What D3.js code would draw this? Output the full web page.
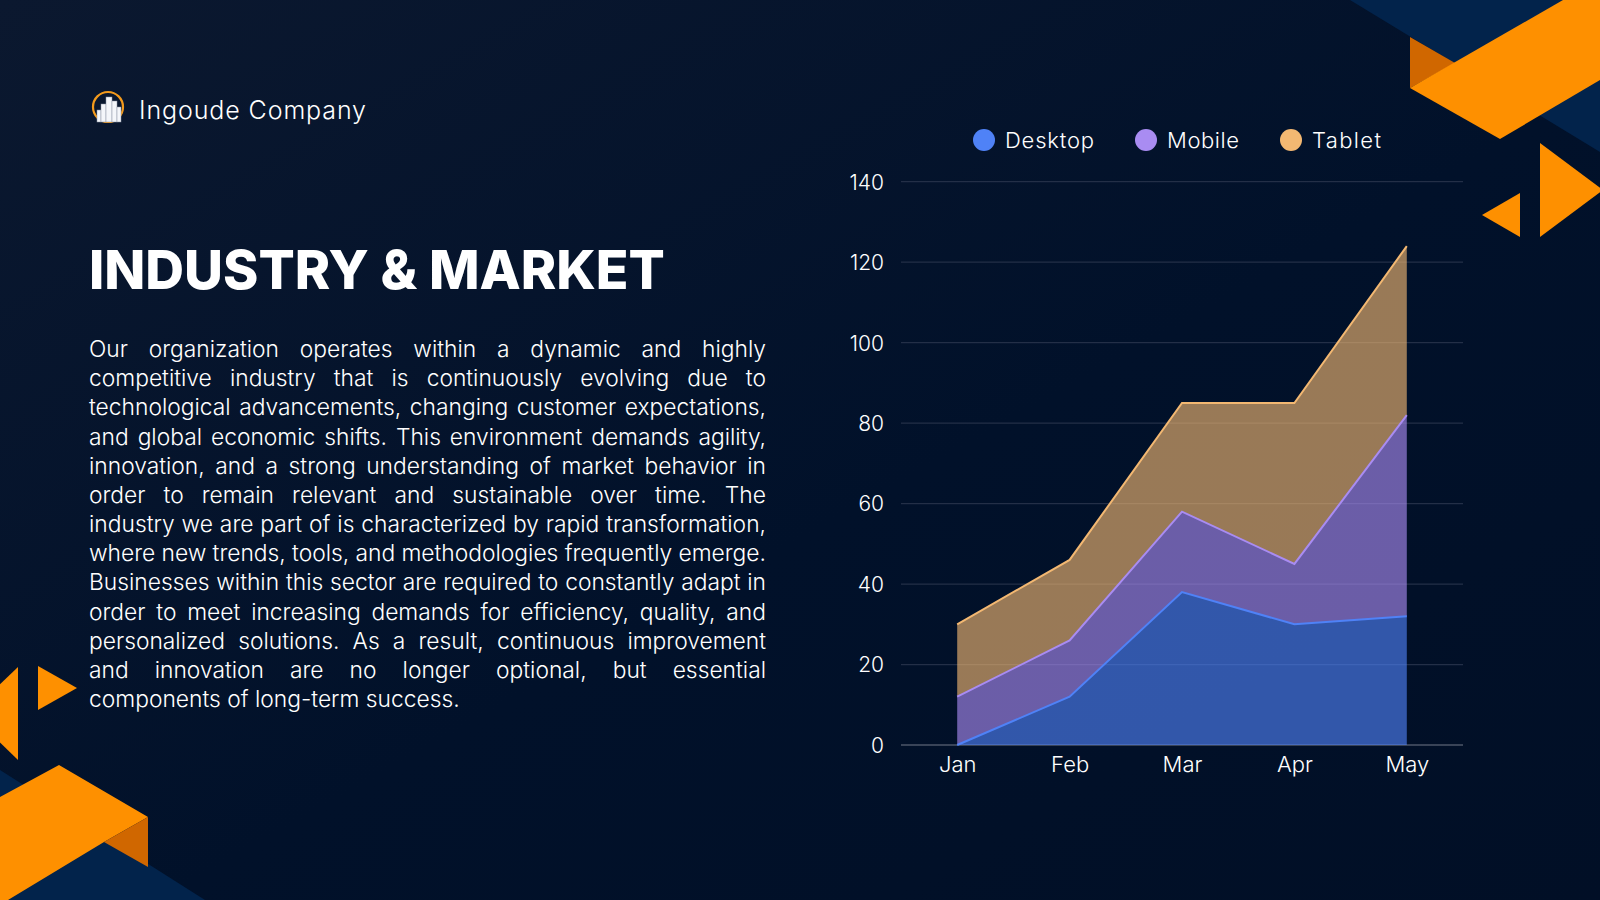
<!DOCTYPE html>
<html>
<head>
<meta charset="utf-8">
<script src="https://cdn.jsdelivr.net/npm/d3@7"></script>
<style>
  html, body { margin: 0; padding: 0; background: #01102a; overflow: hidden; }
  svg { display: block; }
  text { font-family: Inter, "Noto Sans", sans-serif; }
</style>
</head>
<body>
<svg id="slide" width="1600" height="900"></svg>
<script>
const months = ["Jan", "Feb", "Mar", "Apr", "May"];
const desktop = [0, 12, 38, 30, 32];
const mobile = [12, 14, 20, 15, 50];
const tablet = [18, 20, 27, 40, 42];
const seriesNames = ["Desktop", "Mobile", "Tablet"];
const seriesColors = ["#4f82f7", "#a98cf2", "#f3b872"];
const yTicks = [0, 20, 40, 60, 80, 100, 120, 140];

const bodyLines = [
  "Our organization operates within a dynamic and highly",
  "competitive industry that is continuously evolving due to",
  "technological advancements, changing customer expectations,",
  "and global economic shifts. This environment demands agility,",
  "innovation, and a strong understanding of market behavior in",
  "order to remain relevant and sustainable over time. The",
  "industry we are part of is characterized by rapid transformation,",
  "where new trends, tools, and methodologies frequently emerge.",
  "Businesses within this sector are required to constantly adapt in",
  "order to meet increasing demands for efficiency, quality, and",
  "personalized solutions. As a result, continuous improvement",
  "and innovation are no longer optional, but essential",
  "components of long-term success."
];

const svg = d3.select("#slide");

// background
const defs = svg.append("defs");
const bg = defs.append("linearGradient").attr("id", "bg")
  .attr("x1", "0").attr("y1", "0").attr("x2", "1").attr("y2", "1");
bg.append("stop").attr("offset", "0%").attr("stop-color", "#0b182f");
bg.append("stop").attr("offset", "55%").attr("stop-color", "#01112a");
bg.append("stop").attr("offset", "100%").attr("stop-color", "#010f26");
svg.append("rect").attr("width", 1600).attr("height", 900).attr("fill", "url(#bg)");

// decorative shapes
const deco = svg.append("g");
function poly(pts, fill) {
  deco.append("polygon").attr("points", pts.map(p => p.join(",")).join(" ")).attr("fill", fill);
}
// top right
poly([[1350, 0], [1600, 0], [1600, 152]], "#02234b");
poly([[1410, 37], [1455, 63], [1410, 88]], "#d06700");
poly([[1410, 88], [1563, 0], [1600, 0], [1600, 80], [1500, 139]], "#fe9000");
poly([[1540, 143], [1603, 190], [1540, 237]], "#fe9000");
poly([[1482, 215], [1520, 193], [1520, 237]], "#fe9000");
// bottom left
poly([[0, 770], [205, 900], [0, 900]], "#02234b");
poly([[0, 797], [59, 765], [148, 817], [104, 842], [8, 900], [0, 900]], "#fe9000");
poly([[104, 842], [148, 817], [148, 867]], "#d06700");
poly([[18, 667], [18, 760], [-30, 713]], "#fe9000");
poly([[38, 666], [77, 688], [38, 710]], "#fe9000");

// fit a text to a target width with letter spacing
function fitSpacing(t, target) {
  const s = t.text();
  const w = t.node().getComputedTextLength();
  t.attr("letter-spacing", (target - w) / (s.length - 1));
}

// logo
const logo = svg.append("g").attr("transform", "translate(108,107)");
logo.append("circle").attr("r", 15).attr("fill", "none").attr("stroke", "#f39a1c").attr("stroke-width", 2.2);
[[-11, 3, 4, 12], [-7, -3, 5, 18], [-2, -10, 6, 25], [4, -6, 5, 21], [9, 0, 4, 15]].forEach(b => {
  logo.append("rect").attr("x", b[0]).attr("y", b[1]).attr("width", b[2]).attr("height", b[3])
    .attr("fill", "#f4f6fa").attr("stroke", "#8b93a3").attr("stroke-width", 0.5);
});
const company = svg.append("text").attr("x", 139).attr("y", 119).attr("fill", "#ffffff")
  .attr("font-size", 25).attr("font-weight", 300).text("Ingoude Company");
fitSpacing(company, 227);

// title, fitted to reference width
const title = svg.append("text").attr("x", 89).attr("y", 289).attr("fill", "#ffffff")
  .attr("font-size", 54).attr("font-weight", 800).text("INDUSTRY & MARKET");
const tw = title.node().getComputedTextLength();
title.attr("font-size", 54 * 576 / tw);

// body paragraph, justified line by line
const bodyX = 89, bodyW = 677, bodyTop = 357, lineH = 29.17;
const probe = svg.append("text").attr("font-size", 20).attr("font-weight", 300)
  .text(bodyLines[bodyLines.length - 1]);
const bodyFs = 20 * 371 / probe.node().getComputedTextLength();
probe.remove();
bodyLines.forEach((line, i) => {
  const t = svg.append("text").attr("x", bodyX).attr("y", bodyTop + i * lineH)
    .attr("fill", "#ffffff").attr("font-size", bodyFs).attr("font-weight", 300).text(line);
  if (i < bodyLines.length - 1) {
    const w = t.node().getComputedTextLength();
    const gaps = line.split(" ").length - 1;
    t.attr("word-spacing", (bodyW - w) / gaps);
  }
});

// chart
const x = d3.scalePoint().domain(months).range([901, 1463]).padding(0.5);
const y = d3.scaleLinear().domain([0, 140]).range([745, 181.7]);

const g = svg.append("g");
g.selectAll("line.grid").data(yTicks).enter().append("line")
  .attr("class", "grid")
  .attr("x1", 901).attr("x2", 1463)
  .attr("y1", d => y(d)).attr("y2", d => y(d))
  .attr("stroke", d => d === 0 ? "#4d5668" : "#232f47").attr("stroke-width", 1.3);

const yAxis = g.append("g").attr("transform", "translate(884,0)")
  .call(d3.axisLeft(y).tickValues(yTicks).tickSize(0).tickPadding(0));
yAxis.select(".domain").remove();
yAxis.selectAll("text").attr("fill", "#ffffff").attr("font-size", 21)
  .attr("font-family", "Inter, sans-serif").attr("font-weight", 300).attr("dy", "0.35em");

const xAxis = g.append("g").attr("transform", "translate(0,772)")
  .call(d3.axisBottom(x).tickSize(0).tickPadding(0));
xAxis.select(".domain").remove();
xAxis.selectAll("text").attr("fill", "#ffffff").attr("font-size", 22)
  .attr("font-family", "Inter, sans-serif").attr("font-weight", 300).attr("dy", 0);

const table = months.map((m, i) => ({ month: m, Desktop: desktop[i], Mobile: mobile[i], Tablet: tablet[i] }));
const stacked = d3.stack().keys(seriesNames)(table);

const area = d3.area().x(d => x(d.data.month)).y0(d => y(d[0])).y1(d => y(d[1]));
const topLine = d3.line().x(d => x(d.data.month)).y(d => y(d[1]));

g.selectAll("path.area").data(stacked).enter().append("path")
  .attr("class", "area")
  .attr("d", area)
  .attr("fill", (d, i) => seriesColors[i]).attr("fill-opacity", 0.63);
g.selectAll("path.edge").data(stacked).enter().append("path")
  .attr("class", "edge")
  .attr("d", topLine)
  .attr("fill", "none").attr("stroke", (d, i) => seriesColors[i]).attr("stroke-width", 2);

// legend
const legendX = [984, 1146, 1291];
const legendW = [89, 72, 69];
const legend = svg.append("g").selectAll("g").data(seriesNames).enter().append("g")
  .attr("transform", (d, i) => `translate(${legendX[i]},140)`);
legend.append("circle").attr("r", 11).attr("fill", (d, i) => seriesColors[i]);
legend.append("text").attr("x", 21).attr("y", 8).attr("fill", "#ffffff")
  .attr("font-size", 22).attr("font-weight", 300).text(d => d)
  .each(function (d, i) { fitSpacing(d3.select(this), legendW[i]); });
</script>
</body>
</html>
